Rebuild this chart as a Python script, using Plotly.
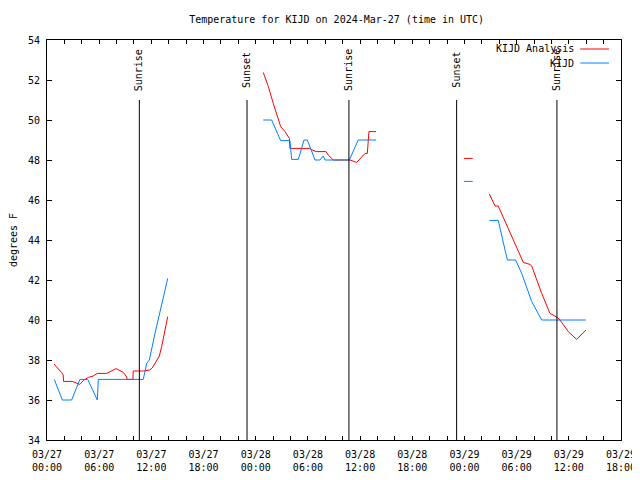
import plotly.graph_objects as go
import datetime as _dt

# ---- data ----
analysis_times = [
    "2024-03-27 00:48", "2024-03-27 01:18", "2024-03-27 01:41", "2024-03-27 01:52", "2024-03-27 01:54",
    "2024-03-27 02:55", "2024-03-27 03:47", "2024-03-27 04:10", "2024-03-27 04:45", "2024-03-27 05:19",
    "2024-03-27 05:47", "2024-03-27 06:52", "2024-03-27 07:26", "2024-03-27 07:56", "2024-03-27 08:23",
    "2024-03-27 08:46", "2024-03-27 09:05", "2024-03-27 09:14", "2024-03-27 09:53", "2024-03-27 09:55",
    "2024-03-27 11:04", "2024-03-27 11:50", "2024-03-27 12:06", "2024-03-27 12:25", "2024-03-27 12:55",
    "2024-03-27 13:11", "2024-03-27 13:34", "2024-03-27 13:53",
    "2024-03-27 18:00",
    "2024-03-28 00:52", "2024-03-28 01:27", "2024-03-28 02:01", "2024-03-28 02:32", "2024-03-28 02:52",
    "2024-03-28 03:22", "2024-03-28 03:52", "2024-03-28 03:56", "2024-03-28 06:14", "2024-03-28 06:22",
    "2024-03-28 06:56", "2024-03-28 08:05", "2024-03-28 08:20", "2024-03-28 08:55", "2024-03-28 10:50",
    "2024-03-28 11:37", "2024-03-28 12:11", "2024-03-28 12:34", "2024-03-28 12:50", "2024-03-28 13:01",
    "2024-03-28 13:50",
    "2024-03-28 18:00",
    "2024-03-28 23:56", "2024-03-29 00:57",
    "2024-03-29 02:00",
    "2024-03-29 02:52", "2024-03-29 03:31", "2024-03-29 03:53", "2024-03-29 05:18", "2024-03-29 06:46",
    "2024-03-29 07:32", "2024-03-29 07:44", "2024-03-29 08:53", "2024-03-29 09:50", "2024-03-29 10:41",
    "2024-03-29 10:59", "2024-03-29 11:56", "2024-03-29 12:54", "2024-03-29 13:58",
]
analysis_temps = [
    37.80, 37.58, 37.37, 37.25, 36.93,
    36.93, 36.78, 36.97, 37.13, 37.20,
    37.33, 37.33, 37.45, 37.57, 37.47,
    37.38, 37.20, 37.03, 37.03, 37.45,
    37.45, 37.50, 37.60, 37.83, 38.20,
    38.67, 39.50, 40.17,
    None,
    52.38, 51.67, 50.83, 50.17, 49.67,
    49.42, 49.08, 48.58, 48.58, 48.53,
    48.42, 48.42, 48.25, 48.00, 48.00,
    47.88, 48.17, 48.33, 48.33, 49.42,
    49.42,
    None,
    48.08, 48.08,
    None,
    46.30, 45.70, 45.70, 44.30, 42.88,
    42.78, 42.70, 41.33, 40.33, 40.13,
    40.00, 39.42, 39.03, 39.50,
]

obs_times = [
    "2024-03-27 00:50", "2024-03-27 01:46", "2024-03-27 02:50", "2024-03-27 03:47", "2024-03-27 04:41",
    "2024-03-27 05:47", "2024-03-27 05:54", "2024-03-27 11:04", "2024-03-27 11:28", "2024-03-27 11:46",
    "2024-03-27 12:25", "2024-03-27 13:11", "2024-03-27 13:53",
    "2024-03-27 18:00",
    "2024-03-28 00:52", "2024-03-28 01:50", "2024-03-28 02:52", "2024-03-28 03:56", "2024-03-28 04:08",
    "2024-03-28 04:54", "2024-03-28 05:33", "2024-03-28 05:56", "2024-03-28 06:49", "2024-03-28 07:23",
    "2024-03-28 07:46", "2024-03-28 07:58", "2024-03-28 10:46", "2024-03-28 11:47", "2024-03-28 13:50",
    "2024-03-28 18:00",
    "2024-03-28 23:56", "2024-03-29 00:57",
    "2024-03-29 02:00",
    "2024-03-29 02:52", "2024-03-29 03:53", "2024-03-29 04:56", "2024-03-29 05:53", "2024-03-29 06:35",
    "2024-03-29 07:09", "2024-03-29 07:44", "2024-03-29 08:53", "2024-03-29 13:58",
]
obs_temps = [
    37.03, 36.00, 36.00, 37.03, 37.03,
    36.00, 37.03, 37.03, 37.83, 38.00,
    39.33, 40.75, 42.08,
    None,
    50.00, 50.00, 48.97, 48.97, 48.03,
    48.03, 49.00, 49.00, 48.00, 48.00,
    48.20, 48.00, 48.00, 49.00, 49.00,
    None,
    46.93, 46.93,
    None,
    44.98, 44.98, 43.00, 43.00, 42.33,
    41.58, 40.92, 40.00, 40.00,
]

sun_times = ["2024-03-27 10:37", "2024-03-27 23:00", "2024-03-28 10:43",
             "2024-03-28 23:06", "2024-03-29 10:38"]
sun_labels = ["Sunrise", "Sunset", "Sunrise", "Sunset", "Sunrise"]

x_start = "2024-03-27 00:00"
x_end = "2024-03-29 18:00"
x_tick_times = [
    "2024-03-27 00:00", "2024-03-27 06:00", "2024-03-27 12:00", "2024-03-27 18:00",
    "2024-03-28 00:00", "2024-03-28 06:00", "2024-03-28 12:00", "2024-03-28 18:00",
    "2024-03-29 00:00", "2024-03-29 06:00", "2024-03-29 12:00", "2024-03-29 18:00",
]
x_tick_labels = [
    "03/27<br>00:00", "03/27<br>06:00", "03/27<br>12:00", "03/27<br>18:00",
    "03/28<br>00:00", "03/28<br>06:00", "03/28<br>12:00", "03/28<br>18:00",
    "03/29<br>00:00", "03/29<br>06:00", "03/29<br>12:00", "03/29<br>18:00",
]
y_range = [34, 54]
y_step = 2

series_names = ["KIJD Analysis", "KIJD"]
series_colors = ["#ff0000", "#0080ff"]

FONT = "DejaVu Sans Mono"

fig = go.Figure()
fig.add_trace(go.Scatter(x=analysis_times, y=analysis_temps, mode="lines",
                         line=dict(color=series_colors[0], width=1),
                         connectgaps=False, name=series_names[0], showlegend=False))
fig.add_trace(go.Scatter(x=obs_times, y=obs_temps, mode="lines",
                         line=dict(color=series_colors[1], width=1),
                         connectgaps=False, name=series_names[1], showlegend=False))

# sunrise / sunset markers
for t, lab in zip(sun_times, sun_labels):
    fig.add_shape(type="line", xref="x", yref="paper", x0=t, x1=t, y0=0, y1=0.85,
                  line=dict(color="black", width=1))
    fig.add_annotation(x=t, xref="x", y=0.925, yref="paper", text=lab, textangle=-90,
                       showarrow=False, xanchor="center", yanchor="middle",
                       font=dict(family=FONT, size=10, color="black"))

# gnuplot-style key: text then line sample
key_rows = [0.9775, 0.9425]
for name, color, yk in zip(series_names, series_colors, key_rows):
    fig.add_annotation(x=0.921, xref="paper", y=yk, yref="paper", text=name,
                       showarrow=False, xanchor="right", yanchor="middle",
                       font=dict(family=FONT, size=10, color="black"))
    fig.add_shape(type="line", xref="paper", yref="paper", x0=0.929, x1=0.979,
                  y0=yk, y1=yk, line=dict(color=color, width=1))

# x ticks every 2 hours, labels every 6
t0 = _dt.datetime.strptime(x_start, "%Y-%m-%d %H:%M")
t1 = _dt.datetime.strptime(x_end, "%Y-%m-%d %H:%M")
tickvals, ticktext = [], []
label_map = dict(zip(x_tick_times, x_tick_labels))
t = t0
while t <= t1:
    s = t.strftime("%Y-%m-%d %H:%M")
    tickvals.append(s)
    ticktext.append(label_map.get(s, ""))
    t += _dt.timedelta(hours=2)

# the page body adds an 8px offset; keep the page from overflowing the 640x480 window
fig.update_layout(
    width=632, height=464,
    margin=dict(l=39, r=19, t=32, b=32, autoexpand=False),
    paper_bgcolor="white", plot_bgcolor="white",
    font=dict(family=FONT, size=10, color="black"),
    title=dict(text="Temperature for KIJD on 2024-Mar-27 (time in UTC)",
               x=0.52, xanchor="center", y=1 - 11 / 464, yanchor="middle",
               font=dict(family=FONT, size=10, color="black")),
    showlegend=False,
)
fig.update_xaxes(type="date", range=[x_start, x_end], tickmode="array",
                 tickvals=tickvals, ticktext=ticktext, ticks="inside", ticklen=4,
                 tickcolor="black", showline=True, linecolor="black", linewidth=1,
                 mirror="ticks", showgrid=False, zeroline=False, automargin=False,
                 ticklabelstandoff=5, ticklabeloverflow="allow",
                 tickfont=dict(family=FONT, size=10, color="black"))
fig.update_yaxes(range=y_range, dtick=y_step, tick0=y_range[0], ticks="inside", ticklen=5,
                 tickcolor="black", showline=True, linecolor="black", linewidth=1,
                 mirror="ticks", showgrid=False, zeroline=False, automargin=False,
                 ticklabelstandoff=4,
                 title=dict(text="degrees F", standoff=16,
                            font=dict(family=FONT, size=10, color="black")),
                 tickfont=dict(family=FONT, size=10, color="black"))

fig.write_html("out.html",
               post_script="document.documentElement.style.overflow='hidden';"
                           "document.body.style.overflow='hidden';")
